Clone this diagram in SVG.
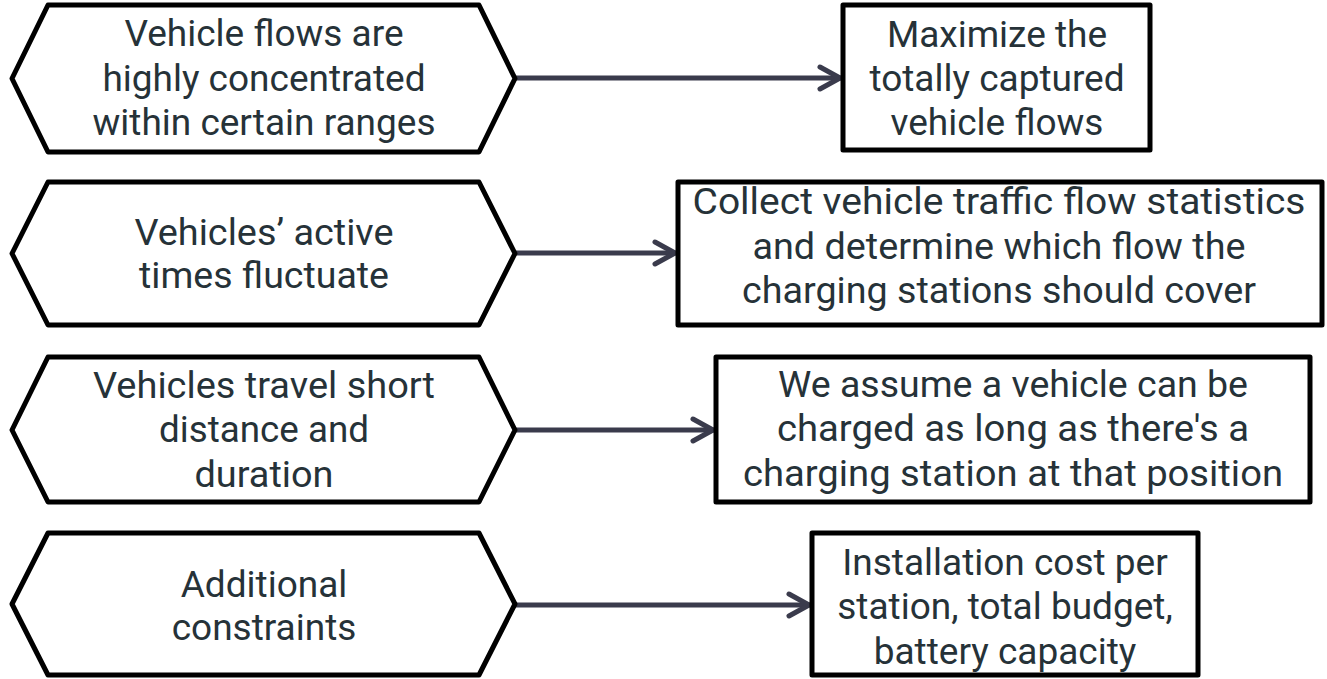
<svg xmlns="http://www.w3.org/2000/svg" width="1327" height="679" viewBox="0 0 1327 679">
<style>
.shape{fill:#ffffff;stroke:#000000;stroke-width:5;stroke-linejoin:round}
.t{font-family:Roboto,"Liberation Sans",sans-serif;font-size:37px;fill:#263238;text-anchor:middle}
.c{lengthAdjust:spacingAndGlyphs}
.conn{stroke:#3a3b4c;stroke-width:5;fill:none;stroke-linecap:round}
</style>
<defs>
<marker id="ah" markerUnits="userSpaceOnUse" markerWidth="40" markerHeight="40" viewBox="-30 -20 40 40" refX="0" refY="0" orient="auto">
<path d="M-20,-11 L0,0 L-20,11" fill="none" stroke="#3a3b4c" stroke-width="5" stroke-linecap="round" stroke-linejoin="round"/>
</marker>
</defs>
<rect width="1327" height="679" fill="#ffffff"/>
<g id="connectors">
<line class="conn" x1="515" y1="78" x2="840" y2="78" marker-end="url(#ah)"/>
<line class="conn" x1="515" y1="253" x2="675" y2="253" marker-end="url(#ah)"/>
<line class="conn" x1="515" y1="430" x2="713" y2="430" marker-end="url(#ah)"/>
<line class="conn" x1="515" y1="605" x2="809" y2="605" marker-end="url(#ah)"/>
</g>
<g id="hex1">
<polygon class="shape" points="12,78.5 48,5 479,5 515,78.5 479,152 48,152"/>
<text class="t" x="264" y="46">Vehicle flows are</text>
<text class="t" x="264" y="91">highly concentrated</text>
<text class="t" x="264" y="135">within certain ranges</text>
</g>
<g id="box1">
<rect class="shape" x="843" y="5" width="307" height="145"/>
<text class="t" x="997" y="47">Maximize the</text>
<text class="t" x="997" y="91">totally captured</text>
<text class="t" x="997" y="135">vehicle flows</text>
</g>
<g id="hex2">
<polygon class="shape" points="12,253.5 48,182 479,182 515,253.5 479,325 48,325"/>
<text class="t" x="264" y="245" textLength="259" lengthAdjust="spacingAndGlyphs">Vehicles’ active</text>
<text class="t" x="264" y="288" textLength="250" lengthAdjust="spacingAndGlyphs">times fluctuate</text>
</g>
<g id="box2">
<rect class="shape" x="678" y="182" width="644" height="143"/>
<text class="t" x="999" y="214" textLength="613" lengthAdjust="spacingAndGlyphs">Collect vehicle traffic flow statistics</text>
<text class="t" x="999" y="259" textLength="493" lengthAdjust="spacingAndGlyphs">and determine which flow the</text>
<text class="t" x="999" y="303" textLength="514" lengthAdjust="spacingAndGlyphs">charging stations should cover</text>
</g>
<g id="hex3">
<polygon class="shape" points="12,430 48,357 479,357 515,430 479,502 48,502"/>
<text class="t" x="264" y="398" textLength="342" lengthAdjust="spacingAndGlyphs">Vehicles travel short</text>
<text class="t" x="264" y="442" textLength="210" lengthAdjust="spacingAndGlyphs">distance and</text>
<text class="t" x="264" y="487" textLength="139" lengthAdjust="spacingAndGlyphs">duration</text>
</g>
<g id="box3">
<rect class="shape" x="716" y="357" width="594" height="145"/>
<text class="t" x="1013" y="397" textLength="470" lengthAdjust="spacingAndGlyphs">We assume a vehicle can be</text>
<text class="t" x="1013" y="441" textLength="472" lengthAdjust="spacingAndGlyphs">charged as long as there's a</text>
<text class="t" x="1013" y="486" textLength="540" lengthAdjust="spacingAndGlyphs">charging station at that position</text>
</g>
<g id="hex4">
<polygon class="shape" points="12,604 48,533 479,533 515,604 479,675 48,675"/>
<text class="t" x="264" y="597">Additional</text>
<text class="t" x="264" y="640">constraints</text>
</g>
<g id="box4">
<rect class="shape" x="812" y="533" width="386" height="142"/>
<text class="t" x="1005" y="575">Installation cost per</text>
<text class="t" x="1005" y="619">station, total budget,</text>
<text class="t" x="1005" y="664">battery capacity</text>
</g>
</svg>
